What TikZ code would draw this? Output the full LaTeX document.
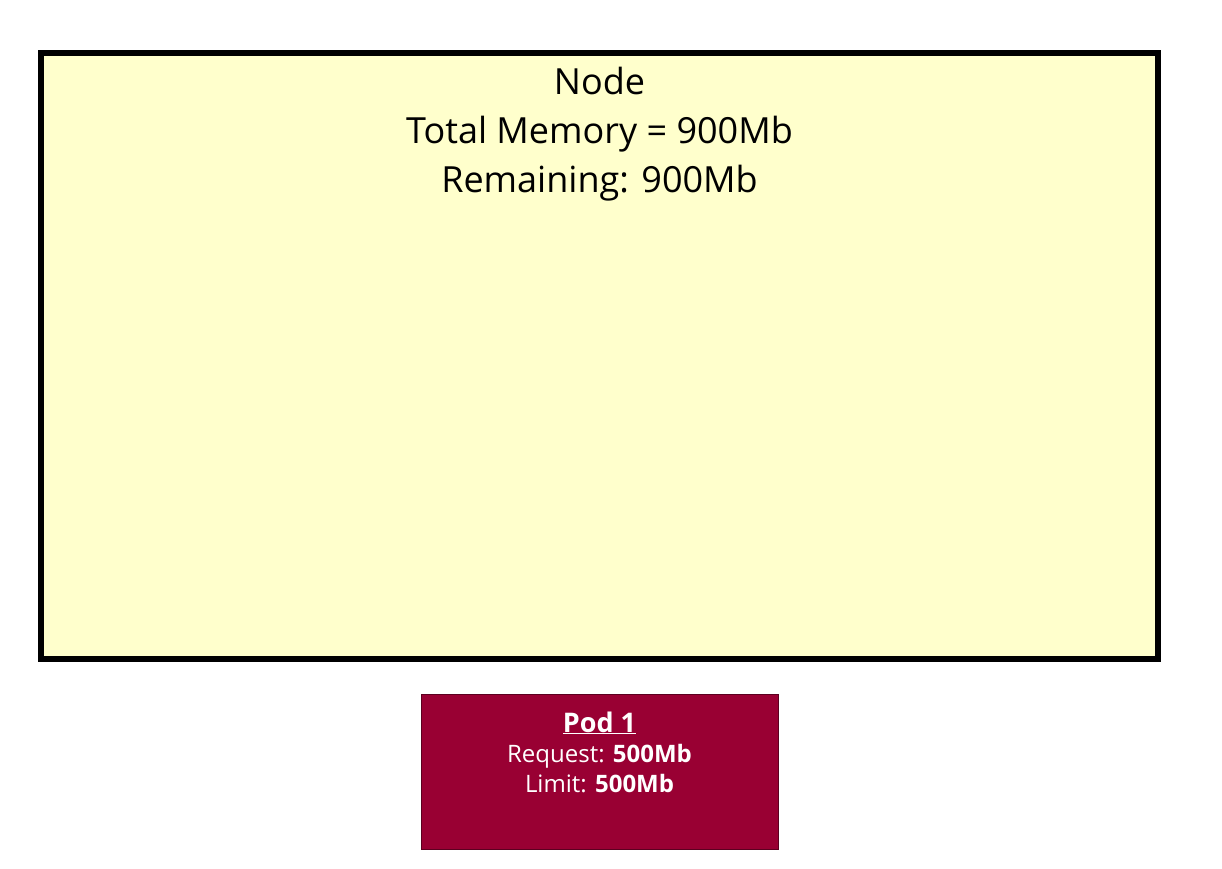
\documentclass[tikz,border=0pt]{standalone}
\usepackage{fontspec}
\setmainfont{Open Sans}
\definecolor{nodefill}{HTML}{FFFFCC}
\definecolor{podfill}{HTML}{990033}
\definecolor{podline}{HTML}{5C0020}
\tikzset{
  hostbox/.style={draw=black, line width=6pt, fill=nodefill, inner sep=0pt},
  podbox/.style={draw=podline, line width=1pt, fill=podfill, inner sep=0pt},
  hosttext/.style={align=center, text=black, font=\fontsize{36}{48.5}\selectfont, inner sep=0pt},
  podtext/.style={align=center, text=white, font=\fontsize{24}{30}\selectfont, inner sep=0pt}
}
\begin{document}
\begin{tikzpicture}[x=1pt,y=-1pt]
\useasboundingbox (0,0) rectangle (1222,869);
\node[hostbox, minimum width=1117pt, minimum height=606pt] (host) at (599.5,356) {};
\node[hosttext, anchor=base] (hostlabel) at (599.5,192) {Node\\Total Memory = 900Mb\\Remaining: 900Mb};
\node[podbox, minimum width=357pt, minimum height=155pt] (pod) at (599.5,771.5) {};
\node[podtext, anchor=base] (podlabel) at (599.5,792) {{\fontsize{27}{30}\selectfont\textbf{\underline{Pod 1}}}\\Request: \textbf{500Mb}\\Limit: \textbf{500Mb}};
\end{tikzpicture}
\end{document}
